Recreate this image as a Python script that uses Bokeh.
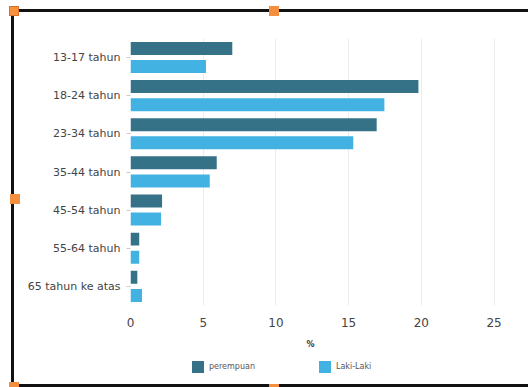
from bokeh.plotting import figure
from bokeh.layouts import column
from bokeh.models import (FactorRange, Range1d, ColumnDataSource, Legend, LegendItem,
                          GlobalInlineStyleSheet, Label)
from bokeh.transform import dodge
from bokeh.embed import file_html
from bokeh.resources import INLINE

categories = ["13-17 tahun", "18-24 tahun", "23-34 tahun", "35-44 tahun",
              "45-54 tahun", "55-64 tahuh", "65 tahun ke atas"]
perempuan = [7.0, 19.8, 16.93, 5.93, 2.17, 0.6, 0.47]
laki_laki = [5.19, 17.46, 15.32, 5.45, 2.1, 0.6, 0.79]
series_names = ["perempuan", "Laki-Laki"]
x_ticks = [0, 5, 10, 15, 20, 25]
x_title = "%"

COL_P = "#367287"
COL_L = "#41b2e2"
FONT = "DejaVu Sans"

src = ColumnDataSource(dict(cat=categories, p=perempuan, l=laki_laki))

p = figure(width=528, height=335, output_backend="svg", toolbar_location=None,
           y_range=FactorRange(factors=list(reversed(categories)), range_padding=0),
           x_range=Range1d(0, 27.37),
           min_border_left=130, min_border_right=0, min_border_top=38, min_border_bottom=30)
p.outline_line_color = None
p.background_fill_color = "white"

r1 = p.hbar(y=dodge("cat", 0.24, range=p.y_range), right="p", left=0, height=0.34,
            source=src, fill_color=COL_P, line_color=None)
r2 = p.hbar(y=dodge("cat", -0.235, range=p.y_range), right="l", left=0, height=0.34,
            source=src, fill_color=COL_L, line_color=None)

p.ygrid.grid_line_color = None
p.xgrid.grid_line_color = "#ececec"
p.xaxis.ticker = x_ticks

p.xaxis.axis_line_color = None
p.xaxis.major_tick_line_color = None
p.xaxis.minor_tick_line_color = None
p.xaxis.major_label_standoff = 6
p.xaxis.major_label_text_font = FONT
p.xaxis.major_label_text_font_size = "12px"
p.xaxis.major_label_text_color = "#444444"

p.yaxis.axis_line_color = None
p.yaxis.major_tick_line_color = "#cccccc"
p.yaxis.major_tick_out = 4
p.yaxis.major_tick_in = 0
p.yaxis.major_label_standoff = 6
p.yaxis.major_label_text_font = FONT
p.yaxis.major_label_text_font_size = "11px"
p.yaxis.major_label_text_color = "#444444"

# strip below the chart with the axis title and the legend (frame aligned with the chart's)
lf = figure(width=528, height=52, output_backend="svg", toolbar_location=None,
            x_range=Range1d(0, 1), y_range=Range1d(0, 1),
            min_border=0, min_border_left=130, min_border_right=0,
            min_border_top=0, min_border_bottom=0)
lf.axis.visible = False
lf.grid.grid_line_color = None
lf.outline_line_color = None
lf.add_layout(Label(x=0.452, y=0.83, text=x_title, text_font=FONT, text_font_size="8px",
                    text_font_style="bold", text_color="#333333",
                    text_align="center", text_baseline="middle"))
# legend swatch renderers: one bar each, kept outside the strip's visible range
swatch = ColumnDataSource(dict(y=[-5], r=[1]))
d1 = lf.hbar(y="y", right="r", left=0, height=0.5, source=swatch, fill_color=COL_P, line_color=None)
d2 = lf.hbar(y="y", right="r", left=0, height=0.5, source=swatch, fill_color=COL_L, line_color=None)
legend = Legend(items=[LegendItem(label=series_names[0], renderers=[d1]),
                       LegendItem(label=series_names[1], renderers=[d2])],
                orientation="horizontal", location=(60, 13),
                glyph_width=15, glyph_height=15, label_standoff=4, spacing=62,
                label_text_font=FONT, label_text_font_size="8px", label_text_color="#555555",
                padding=0, margin=0, border_line_color=None, background_fill_alpha=0)
lf.add_layout(legend, "center")

# screenshot frame and selection handles
css = """
body::after { content: ""; position: fixed; left: 11px; top: 9px; width: 530px; height: 372px;
  border: 3px solid #111111; box-sizing: content-box; pointer-events: none; z-index: 10; }
body::before { content: ""; position: fixed; left: 9px; top: 6px; width: 8px; height: 8px;
  background: #f7923b; border: 1px solid #d9702e; pointer-events: none; z-index: 11;
  box-shadow: 260px 0 0 #f39040, 1px 188px 0 #f39040, 0 376px 0 #f39040, 260px 378px 0 #f39040; }
"""
p.stylesheets = [GlobalInlineStyleSheet(css=css)]

layout = column(p, lf, spacing=0)
open("out.html", "w").write(file_html(layout, INLINE))
